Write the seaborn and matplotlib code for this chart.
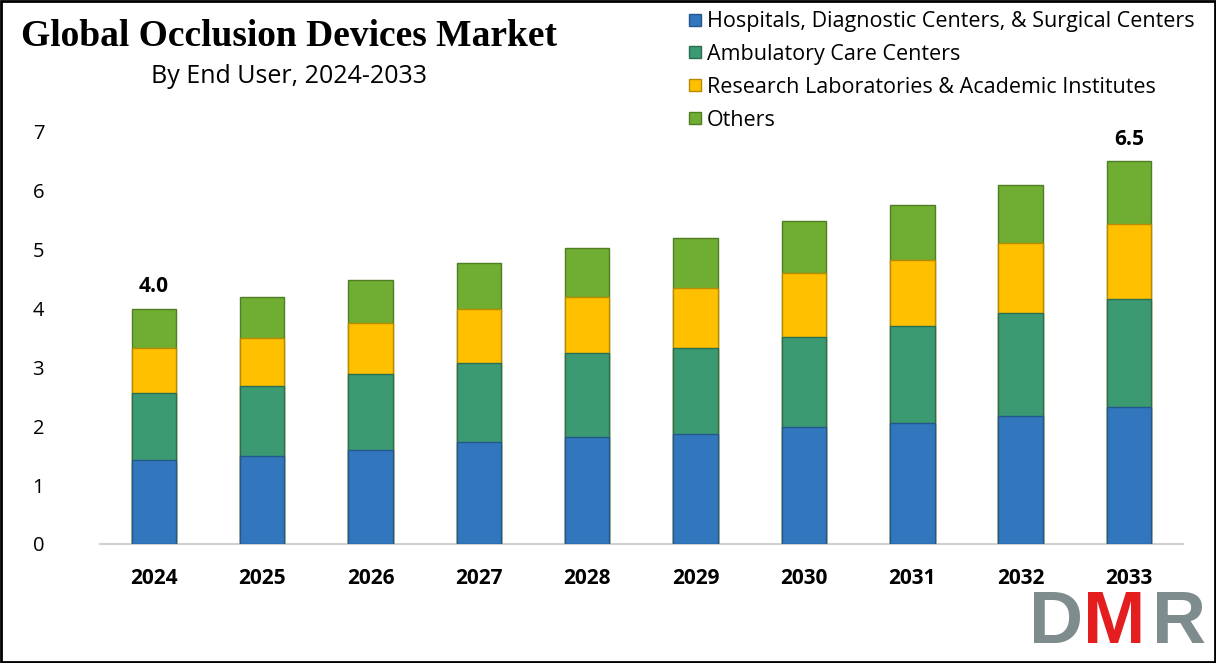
import numpy as np
import pandas as pd
import matplotlib
matplotlib.use("Agg")
import matplotlib.pyplot as plt
import seaborn as sns
from matplotlib.patches import Rectangle
from matplotlib.lines import Line2D

years = ["2024", "2025", "2026", "2027", "2028", "2029", "2030", "2031", "2032", "2033"]
series_names = [
    "Hospitals, Diagnostic Centers, & Surgical Centers",
    "Ambulatory Care Centers",
    "Research Laboratories & Academic Institutes",
    "Others",
]
hospitals = [1.43, 1.50, 1.60, 1.73, 1.82, 1.87, 1.99, 2.06, 2.18, 2.33]
ambulatory = [1.14, 1.18, 1.29, 1.35, 1.43, 1.46, 1.53, 1.65, 1.74, 1.84]
research = [0.76, 0.82, 0.86, 0.92, 0.95, 1.02, 1.08, 1.12, 1.19, 1.27]
others = [0.67, 0.70, 0.74, 0.77, 0.83, 0.85, 0.89, 0.93, 0.99, 1.06]
label_years = ["2024", "2033"]
label_texts = ["4.0", "6.5"]
y_ticks = [0, 1, 2, 3, 4, 5, 6, 7]

colors = ["#3277BD", "#3C9A73", "#FFC000", "#6FAE32"]
edges = ["#24578A", "#2A6E52", "#B88A00", "#4E7D22"]

sns.set_theme(style="white")
plt.rcParams["font.family"] = ["Open Sans", "DejaVu Sans"]
plt.rcParams["text.color"] = "black"
plt.rcParams["xtick.color"] = "black"
plt.rcParams["ytick.color"] = "black"

fig = plt.figure(figsize=(12.16, 6.63), dpi=100)
ax = fig.add_axes([0.082, 0.1795, 0.891, 0.6215])

df = pd.DataFrame({"year": years, "h": hospitals, "a": ambulatory, "r": research, "o": others})
stack = [df["h"], df["h"] + df["a"], df["h"] + df["a"] + df["r"], df["h"] + df["a"] + df["r"] + df["o"]]

# draw from tallest cumulative down so lower segments overlay
for i in reversed(range(4)):
    d = pd.DataFrame({"year": years, "val": stack[i]})
    sns.barplot(data=d, x="year", y="val", color=colors[i], width=0.41, ax=ax,
                saturation=1, edgecolor=edges[i], linewidth=1.0, zorder=2 + (3 - i))

ax.set_ylim(0, 7)
ax.set_xlim(-0.5, len(years) - 0.5)
ax.set_yticks(y_ticks)
ax.set_yticklabels([str(t) for t in y_ticks], fontsize=14.5)
ax.set_xlabel("")
ax.set_ylabel("")
for lab in ax.get_xticklabels():
    lab.set_fontweight("bold")
    lab.set_fontsize(15)
ax.tick_params(axis="y", pad=40, length=0)
ax.tick_params(axis="x", pad=17, length=0)
for s in ["top", "right", "left"]:
    ax.spines[s].set_visible(False)
ax.spines["bottom"].set_color("#D0D0D0")
ax.spines["bottom"].set_linewidth(1.5)
ax.grid(False)

totals = stack[3]
for yr, txt in zip(label_years, label_texts):
    idx = years.index(yr)
    ax.text(idx, totals.iloc[idx] + 0.2, txt, ha="center", va="bottom",
            fontsize=15, fontweight="bold", color="black")

fig.text(0.238, 0.945, "Global Occlusion Devices Market", ha="center", va="center",
         fontsize=27, fontweight="bold", color="black",
         family=["Liberation Serif", "DejaVu Serif"])
fig.text(0.238, 0.885, "By End User, 2024-2033", ha="center", va="center",
         fontsize=18, color="black")

handles = [Line2D([0], [0], marker="s", linestyle="", markersize=9,
                  markerfacecolor=c, markeredgecolor=e) for c, e in zip(colors, edges)]
fig.legend(handles, series_names, loc="upper left", bbox_to_anchor=(0.551, 1.006),
           frameon=False, fontsize=15.5, handletextpad=0.1, labelspacing=0.55,
           handlelength=0.9, borderaxespad=0.3)

# DMR logo as text
fig.text(0.846, 0.008, "D", ha="left", va="bottom", fontsize=54, fontweight="bold",
         color="#7F8C8D", family=["Liberation Sans", "DejaVu Sans"])
fig.text(0.891, 0.008, "M", ha="left", va="bottom", fontsize=54, fontweight="bold",
         color="#E41E1E", family=["Liberation Sans", "DejaVu Sans"])
fig.text(0.947, 0.008, "R", ha="left", va="bottom", fontsize=54, fontweight="bold",
         color="#7F8C8D", family=["Liberation Sans", "DejaVu Sans"])

fig.patches.append(Rectangle((0.001, 0.002), 0.998, 0.996, transform=fig.transFigure,
                             fill=False, edgecolor="black", linewidth=2.0))

fig.savefig("out.png", dpi=100)
